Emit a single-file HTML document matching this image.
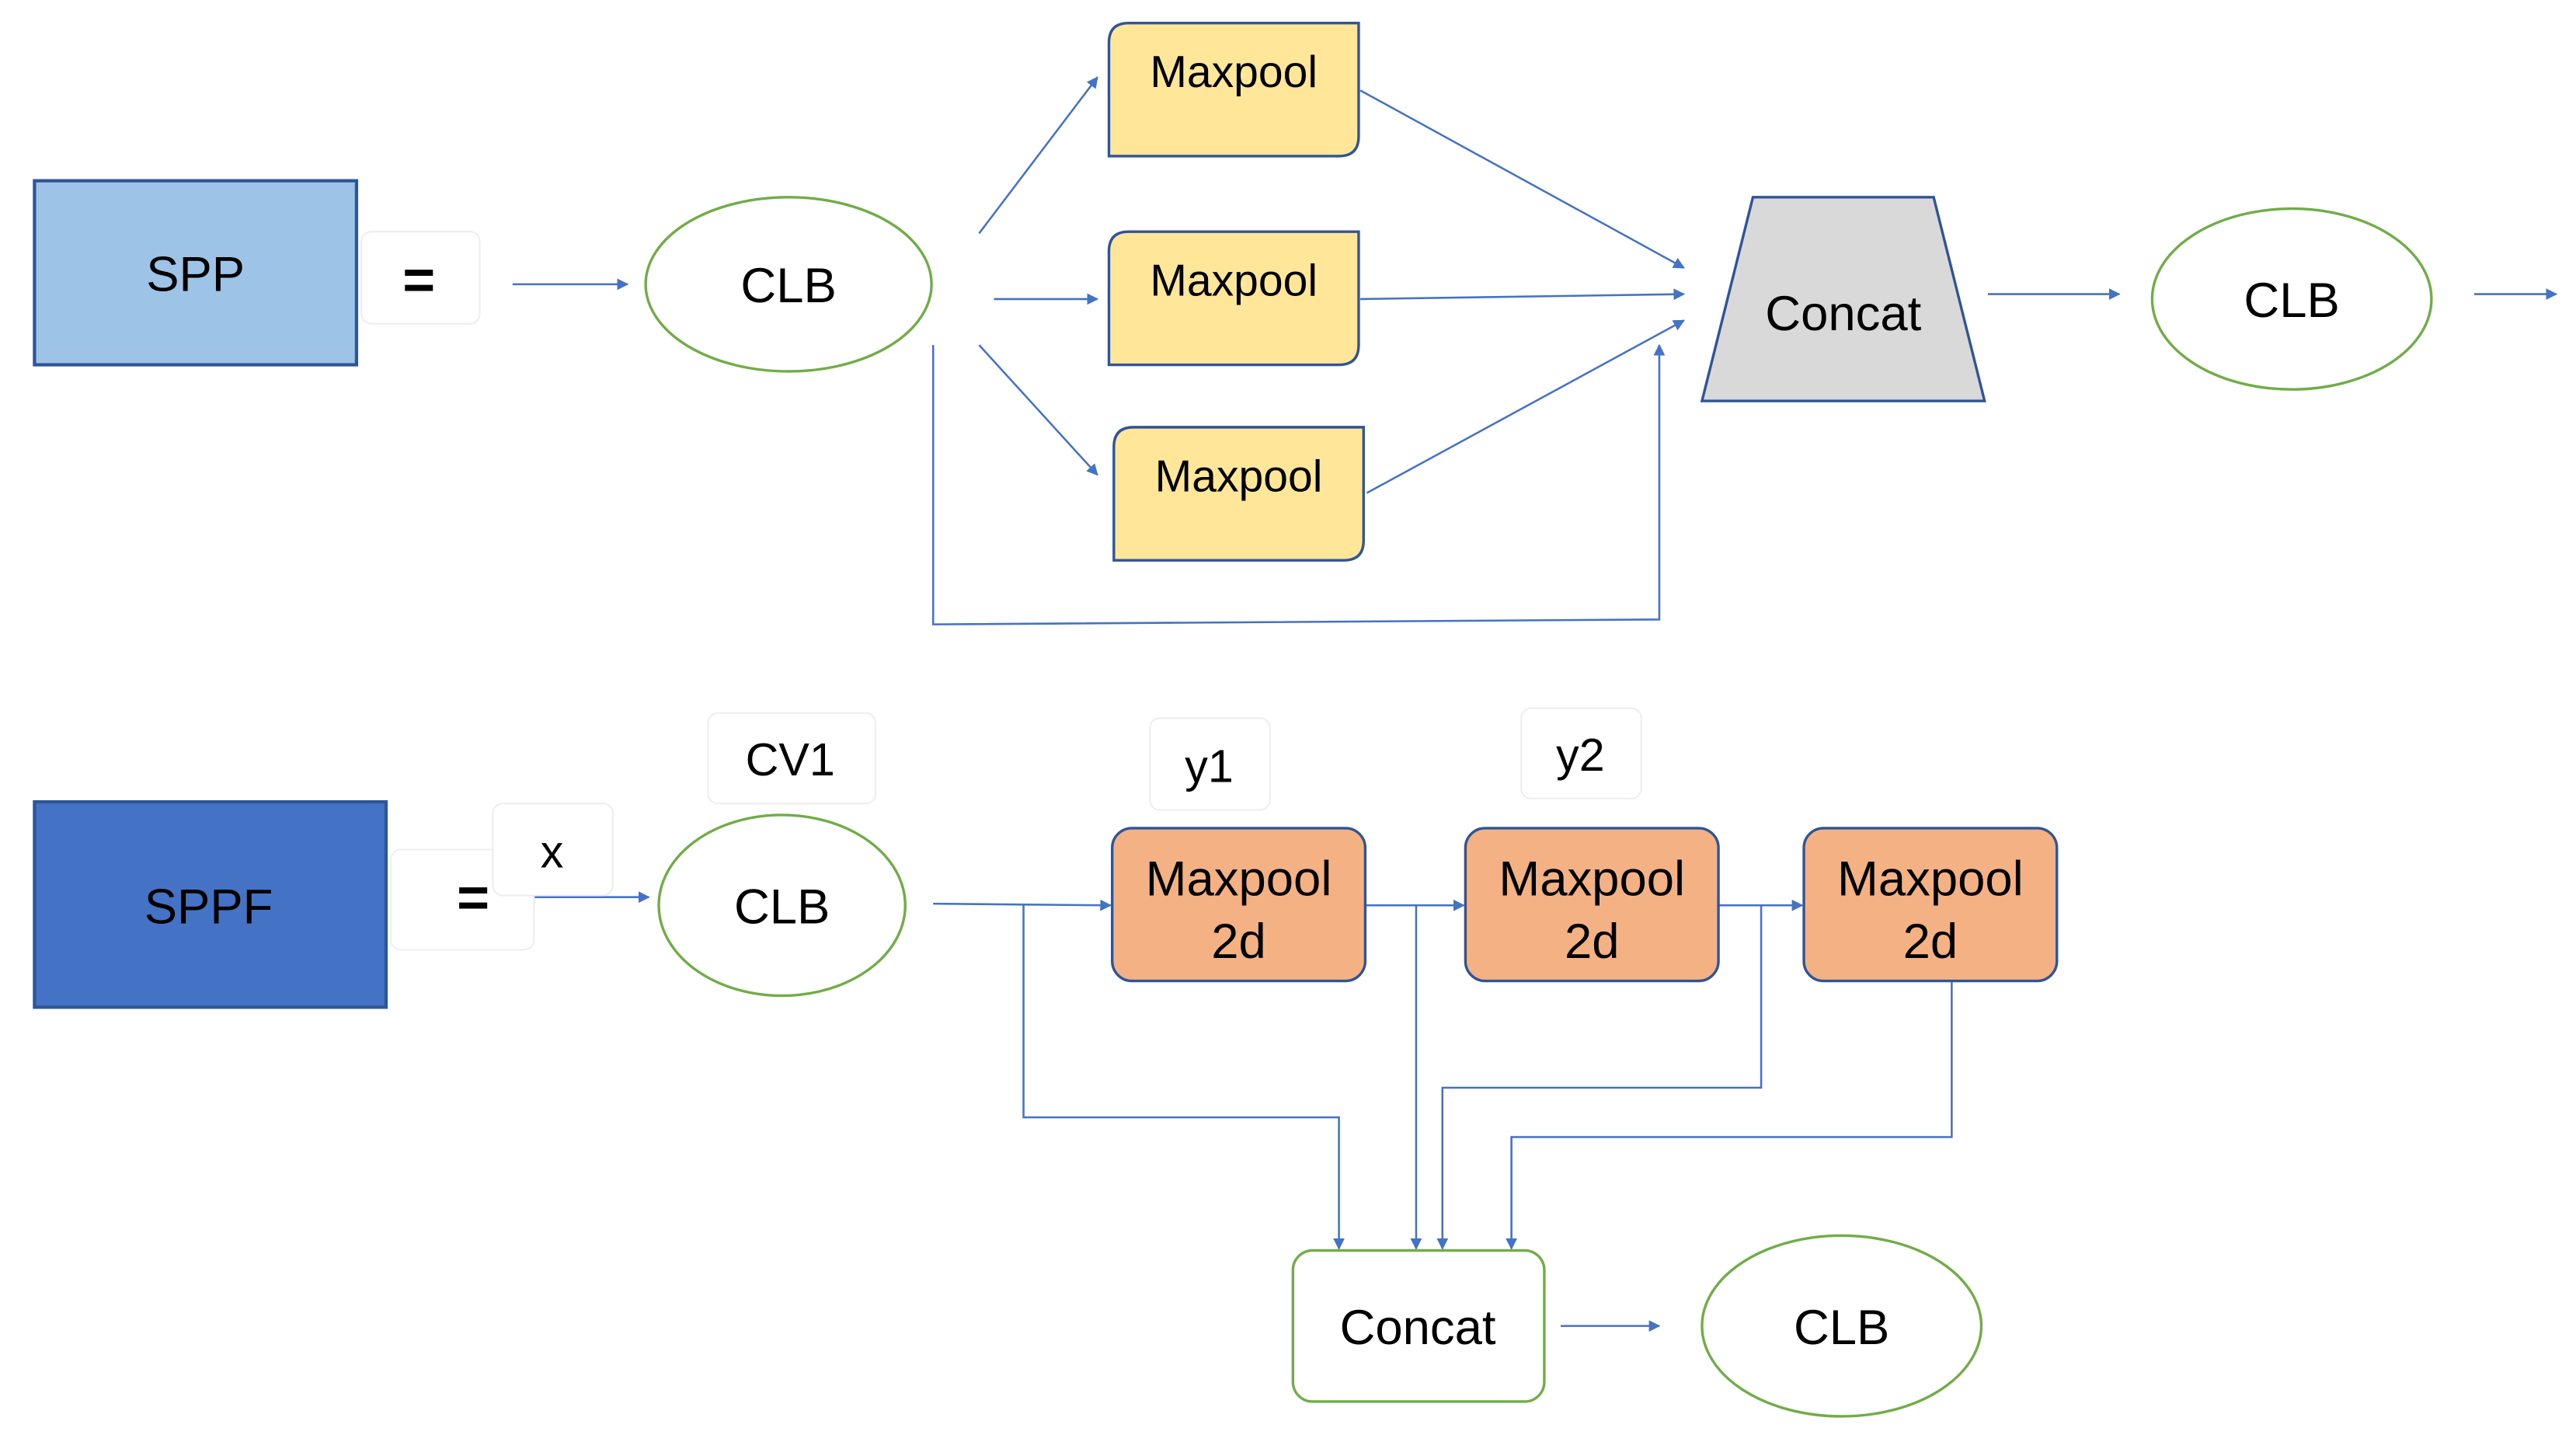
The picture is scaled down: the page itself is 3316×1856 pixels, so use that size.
<!DOCTYPE html>
<html><head><style>html,body{margin:0;padding:0;background:#fff}svg{display:block}</style></head>
<body>
<svg width="3316" height="1856" viewBox="0 0 1568 877.6" xmlns="http://www.w3.org/2000/svg" font-family="Liberation Sans, Arial, sans-serif">
<defs>
<marker id="a" viewBox="0 0 10 10" refX="9" refY="5" markerWidth="7" markerHeight="7" markerUnits="userSpaceOnUse" orient="auto"><path d="M0,0L10,5L0,10z" fill="#4472c4"/></marker>
</defs>
<g stroke="#4472c4" stroke-width="1.2" fill="none" marker-end="url(#a)">
<line x1="312" y1="173" x2="382" y2="173"/>
<line x1="596" y1="142" x2="668" y2="47"/>
<line x1="605" y1="182" x2="668" y2="182"/>
<line x1="596" y1="210" x2="668" y2="289"/>
<line x1="828" y1="55" x2="1025" y2="163"/>
<line x1="828" y1="182" x2="1025" y2="179"/>
<line x1="832" y1="300" x2="1025" y2="195"/>
<polyline points="568,210 568,380 1010,377 1010,210"/>
<line x1="1210" y1="179" x2="1290" y2="179"/>
<line x1="1506" y1="179" x2="1556" y2="179"/>
<line x1="325" y1="546" x2="395" y2="546"/>
<line x1="568" y1="550" x2="676" y2="551"/>
<line x1="831" y1="551" x2="891" y2="551"/>
<line x1="1046" y1="551" x2="1097" y2="551"/>
<polyline points="623,551 623,680 815,680 815,760"/>
<polyline points="862,551 862,760"/>
<polyline points="1072,551 1072,662 878,662 878,760"/>
<polyline points="1188,597 1188,692 920,692 920,760"/>
<line x1="950" y1="807" x2="1010" y2="807"/>
</g>
<rect x="21" y="110" width="196" height="112" fill="#9dc3e6" stroke="#2f5597" stroke-width="2"/>
<text x="119" y="177" font-size="30" text-anchor="middle">SPP</text>
<rect x="220" y="141" width="72" height="56" rx="6" fill="#fff" stroke="#eee"/>
<text x="255" y="182" font-size="34" font-weight="bold" text-anchor="middle">=</text>
<g fill="#fff" stroke="#70ad47" stroke-width="1.6">
<ellipse cx="480" cy="173" rx="87" ry="53"/>
<ellipse cx="1395" cy="182" rx="85" ry="55"/>
<ellipse cx="476" cy="551" rx="75" ry="55"/>
<ellipse cx="1121" cy="807" rx="85" ry="55"/>
<rect x="787" y="761" width="153" height="92" rx="12"/>
</g>
<g fill="#ffe699" stroke="#2f5597" stroke-width="1.6">
<path d="M687,14H827V83Q827,95 815,95H675V26Q675,14 687,14Z"/>
<path d="M687,141H827V210Q827,222 815,222H675V153Q675,141 687,141Z"/>
<path d="M690,260H830V329Q830,341 818,341H678V272Q678,260 690,260Z"/>
</g>
<g font-size="27" text-anchor="middle">
<text x="751" y="53">Maxpool</text>
<text x="751" y="180">Maxpool</text>
<text x="754" y="299">Maxpool</text>
</g>
<path d="M1067,120H1177L1208,244H1036Z" fill="#d9d9d9" stroke="#2f5597" stroke-width="1.6"/>
<g font-size="30" text-anchor="middle">
<text x="1122" y="201">Concat</text>
<text x="480" y="184">CLB</text>
<text x="1395" y="193">CLB</text>
<text x="476" y="562">CLB</text>
<text x="1121" y="818">CLB</text>
<text x="863" y="818">Concat</text>
</g>
<rect x="21" y="488" width="214" height="125" fill="#4472c4" stroke="#2f5597" stroke-width="2"/>
<text x="127" y="562" font-size="30" text-anchor="middle">SPPF</text>
<g fill="#fff" stroke="#eee">
<rect x="238" y="517" width="87" height="61" rx="6"/>
<rect x="300" y="489" width="73" height="56" rx="6"/>
<rect x="431" y="434" width="102" height="55" rx="6"/>
<rect x="700" y="437" width="73" height="56" rx="6"/>
<rect x="926" y="431" width="73" height="55" rx="6"/>
</g>
<text x="288" y="558" font-size="34" font-weight="bold" text-anchor="middle">=</text>
<g font-size="28" text-anchor="middle">
<text x="336" y="528">x</text>
<text x="481" y="472">CV1</text>
<text x="736" y="476">y1</text>
<text x="962" y="469">y2</text>
</g>
<g fill="#f4b183" stroke="#2f5597" stroke-width="1.6">
<rect x="677" y="504" width="154" height="93" rx="12"/>
<rect x="892" y="504" width="154" height="93" rx="12"/>
<rect x="1098" y="504" width="154" height="93" rx="12"/>
</g>
<g font-size="30" text-anchor="middle">
<text x="754" y="545">Maxpool</text><text x="754" y="583">2d</text>
<text x="969" y="545">Maxpool</text><text x="969" y="583">2d</text>
<text x="1175" y="545">Maxpool</text><text x="1175" y="583">2d</text>
</g>
</svg>
</body></html>
